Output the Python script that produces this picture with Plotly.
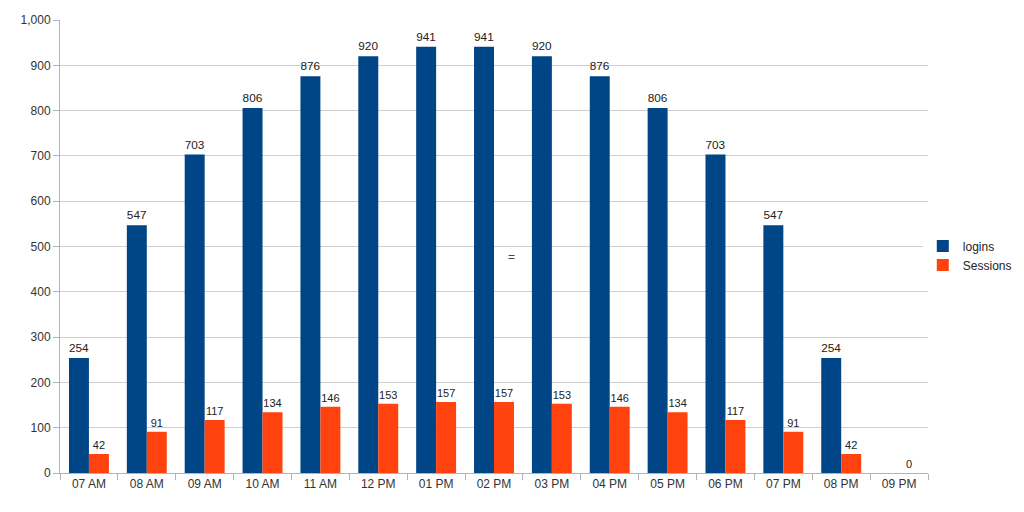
import plotly.graph_objects as go

categories = ["07 AM", "08 AM", "09 AM", "10 AM", "11 AM", "12 PM", "01 PM", "02 PM",
              "03 PM", "04 PM", "05 PM", "06 PM", "07 PM", "08 PM", "09 PM"]
logins = [254, 547, 703, 806, 876, 920, 941, 941, 920, 876, 806, 703, 547, 254, None]
sessions = [42, 91, 117, 134, 146, 153, 157, 157, 153, 146, 134, 117, 91, 42, 0]
y_ticks = [0, 100, 200, 300, 400, 500, 600, 700, 800, 900, 1000]

font = "Liberation Sans, Arial, sans-serif"

fig = go.Figure()
fig.add_trace(go.Bar(
    x=categories, y=logins, name="logins", marker_color="#004586",
    marker_line_width=0,
    text=[("" if v is None else str(v)) for v in logins], textposition="outside",
    textfont=dict(family=font, size=12, color="#222"), cliponaxis=False,
))
fig.add_trace(go.Bar(
    x=categories, y=sessions, name="Sessions", marker_color="#ff420e",
    marker_line_width=0,
    text=[str(v) for v in sessions], textposition="outside",
    textfont=dict(family=font, size=11, color="#222"), cliponaxis=False,
))

fig.add_annotation(x=7.3, y=477, xref="x", yref="y", text="=", showarrow=False,
                   font=dict(family=font, size=12, color="#444"))

fig.update_layout(
    width=1016, height=504,
    margin=dict(l=52, r=96, t=12, b=39, autoexpand=False),
    paper_bgcolor="white", plot_bgcolor="white",
    barmode="group", bargap=0.31, bargroupgap=0,
    font=dict(family=font, size=12, color="#333"),
    legend=dict(x=0.994, y=0.48, xanchor="left", yanchor="middle",
                font=dict(family=font, size=12, color="#222"),
                itemwidth=30, tracegroupgap=2),
    showlegend=True,
)
fig.update_xaxes(
    type="category", tickson="boundaries", ticks="outside", ticklen=6,
    tickcolor="#b3b3b3", showline=True, linecolor="#b3b3b3", linewidth=1,
    showgrid=False, tickfont=dict(family=font, size=12, color="#333"),
)
fig.update_yaxes(
    range=[0, 1000], tickvals=y_ticks, tickformat=",d",
    ticks="outside", ticklen=6, tickcolor="#b3b3b3",
    showline=True, linecolor="#b3b3b3", linewidth=1,
    showgrid=True, gridcolor="#cfcfcf", gridwidth=1,
    zeroline=False, tickfont=dict(family=font, size=12, color="#333"),
)

fig.write_html("out.html")
